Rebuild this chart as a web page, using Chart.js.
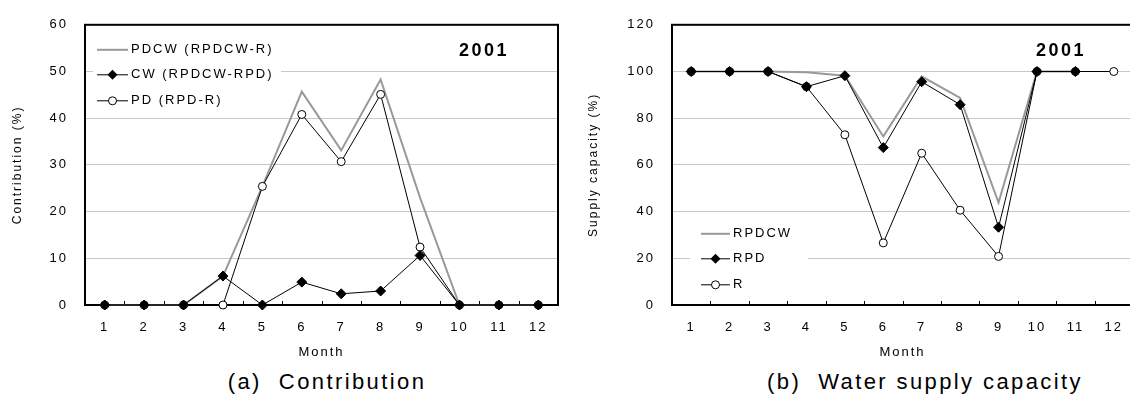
<!DOCTYPE html>
<html>
<head>
<meta charset="utf-8">
<script src="https://cdn.jsdelivr.net/npm/chart.js@4"></script>
<style>
  html, body { margin: 0; padding: 0; background: #fff; }
  body { width: 1130px; height: 396px; overflow: hidden; position: relative; font-family: "Liberation Sans", Arial, sans-serif; }
  .box { position: absolute; top: 0; height: 365px; }
  .cap { position: absolute; top: 369px; font-size: 22px; line-height: 26px; letter-spacing: 2.4px; white-space: pre; transform: translateX(-50%); color: #000; }
</style>
</head>
<body>
<div class="box" style="left:0;width:565px"><canvas id="chartA"></canvas></div>
<div class="box" style="left:575px;width:565px"><canvas id="chartB"></canvas></div>
<div class="cap" style="left:327px">(a)  Contribution</div>
<div class="cap" style="left:925px">(b)  Water supply capacity</div>
<script>
// months on both x axes
const months = ['1', '2', '3', '4', '5', '6', '7', '8', '9', '10', '11', '12']

// (a) contribution, %
const pdcw = [0, 0, 0, 6.2, 25.4, 45.7, 33.1, 48.3, 23.0, 0, 0, 0]
const cw = [0, 0, 0, 6.2, 0, 4.9, 2.4, 3.0, 10.6, 0, 0, 0]
const pd = [0, 0, 0, 0, 25.4, 40.8, 30.7, 45.1, 12.4, 0, 0, 0]

// (b) water supply capacity, %
const rpdcw = [100, 100, 100, 99.7, 98.2, 72.2, 97.9, 88.7, 43.9, 100, 100, null]
const rpd = [100, 100, 100, 93.5, 98.2, 67.4, 95.6, 85.8, 33.3, 100, 100, null]
const r = [100, 100, 100, 93.5, 72.9, 26.6, 65.0, 40.6, 20.8, 100, 100, 100]

const FONT = '"Liberation Sans", Arial, sans-serif'

// frame, inward month ticks, legend inside plot, year tag
const framePlugin = {
  id: 'frame',
  beforeDraw(chart) {
    chart.ctx.letterSpacing = '2px'
  },
  beforeDatasetsDraw(chart) {
    const {ctx, chartArea: a} = chart
    const xs = chart.scales.x
    ctx.save()
    ctx.strokeStyle = '#000'
    ctx.lineWidth = 1
    for (let i = 0; i < months.length - 1; i++) {
      const x = Math.round((xs.getPixelForValue(i) + xs.getPixelForValue(i + 1)) / 2) + 0.5
      ctx.beginPath()
      ctx.moveTo(x, a.bottom)
      ctx.lineTo(x, a.bottom - 4)
      ctx.stroke()
    }
    ctx.lineWidth = 2
    ctx.strokeRect(a.left, a.top, a.right - a.left, a.bottom - a.top)
    ctx.restore()
  },
  afterDraw(chart, args, opts) {
    const {ctx, chartArea: a} = chart
    const lg = opts.legend
    ctx.save()
    ctx.fillStyle = '#fff'
    ctx.fillRect(a.left + lg.box[0], a.top + lg.box[1], lg.box[2], lg.box[3])
    ctx.letterSpacing = '2px'
    ctx.font = '13px ' + FONT
    ctx.textBaseline = 'middle'
    chart.data.datasets.forEach((ds, i) => {
      const y = a.top + lg.rows[i]
      const x0 = a.left + lg.line[0], x1 = a.left + lg.line[1]
      ctx.strokeStyle = ds.borderColor
      ctx.lineWidth = ds.borderWidth
      ctx.beginPath()
      ctx.moveTo(x0, y)
      ctx.lineTo(x1, y)
      ctx.stroke()
      const cx = (x0 + x1) / 2
      ctx.lineWidth = 1
      ctx.strokeStyle = '#000'
      if (ds.pointStyle === 'rectRot' && ds.pointRadius > 0) {
        const rr = ds.pointRadius
        ctx.fillStyle = '#000'
        ctx.beginPath()
        ctx.moveTo(cx, y - rr); ctx.lineTo(cx + rr, y); ctx.lineTo(cx, y + rr); ctx.lineTo(cx - rr, y)
        ctx.closePath()
        ctx.fill()
      } else if (ds.pointRadius > 0) {
        ctx.fillStyle = '#fff'
        ctx.beginPath()
        ctx.arc(cx, y, ds.pointRadius, 0, Math.PI * 2)
        ctx.fill()
        ctx.stroke()
      }
      ctx.fillStyle = '#000'
      ctx.textAlign = 'left'
      ctx.fillText(ds.label, a.left + lg.text, y)
    })
    ctx.letterSpacing = '2.5px'
    ctx.font = 'bold 18px ' + FONT
    ctx.textAlign = 'center'
    ctx.fillText('2001', a.left + opts.tag[0], a.top + opts.tag[1])
    ctx.restore()
  }
}

function makeChart(id, datasets, yMax, yStep, yTitle, yWidth, titlePad, legend, tag) {
  return new Chart(document.getElementById(id), {
    type: 'line',
    data: {labels: months, datasets: datasets},
    options: {
      responsive: true,
      maintainAspectRatio: false,
      animation: false,
      events: [],
      layout: {padding: {top: 17, right: 7, left: 0, bottom: 0}},
      plugins: {
        legend: {display: false},
        tooltip: {enabled: false},
        frame: {legend: legend, tag: tag}
      },
      scales: {
        x: {
          offset: true,
          grid: {display: false, drawTicks: false},
          border: {display: false},
          ticks: {color: '#000', padding: 15, font: {family: FONT, size: 13}},
          title: {display: true, text: 'Month', color: '#000', padding: {top: 0, bottom: 5}, font: {family: FONT, size: 13}},
          afterFit: s => { s.height = 60 }
        },
        y: {
          min: 0, max: yMax,
          grid: {color: '#c8c8c8', lineWidth: 1, drawTicks: false},
          border: {display: false},
          ticks: {stepSize: yStep, color: '#000', padding: 17, font: {family: FONT, size: 13}},
          title: {display: true, text: yTitle, color: '#000', padding: {top: titlePad, bottom: 0}, font: {family: FONT, size: 12}},
          afterFit: s => { s.width = yWidth }
        }
      }
    },
    plugins: [framePlugin]
  })
}

function grayLine(label, data) {
  return {label: label, data: data, borderColor: '#999999', borderWidth: 2, pointRadius: 0, order: 3, clip: false, spanGaps: false}
}
function diamondLine(label, data) {
  return {label: label, data: data, borderColor: '#000', borderWidth: 1, pointStyle: 'rectRot', pointRadius: 5,
    pointBackgroundColor: '#000', pointBorderColor: '#000', pointBorderWidth: 1, order: 1, clip: false}
}
function circleLine(label, data) {
  return {label: label, data: data, borderColor: '#000', borderWidth: 1, pointStyle: 'circle', pointRadius: 4,
    pointBackgroundColor: '#fff', pointBorderColor: '#000', pointBorderWidth: 1, order: 2, clip: false}
}

makeChart('chartA', [
  grayLine('PDCW (RPDCW-R)', pdcw),
  diamondLine('CW (RPDCW-RPD)', cw),
  circleLine('PD (RPD-R)', pd)
], 60, 10, 'Contribution (%)', 85, 10,
  {box: [8, 12, 188, 75], rows: [25, 50, 76], line: [12, 43], text: 46}, [399, 26])

makeChart('chartB', [
  grayLine('RPDCW', rpdcw),
  diamondLine('RPD', rpd),
  circleLine('R', r)
], 120, 20, 'Supply capacity (%)', 97, 11,
  {box: [18, 196, 118, 78], rows: [209, 234, 260], line: [29, 58], text: 61}, [389, 26])
</script>
</body>
</html>
